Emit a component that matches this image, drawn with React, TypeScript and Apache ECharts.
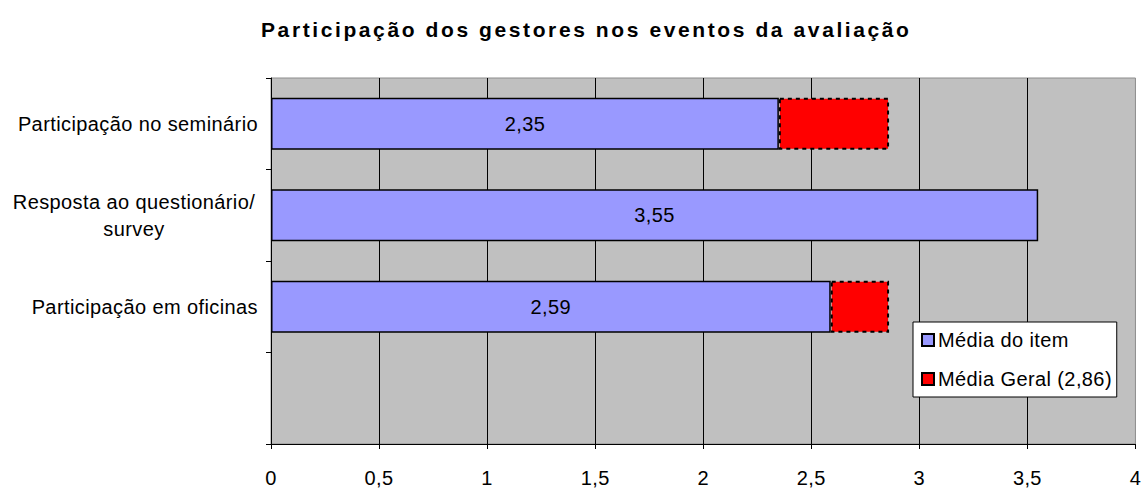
import React, { useEffect, useRef } from "react";
import * as echarts from "echarts";

const categories = [
  "Participação no seminário",
  "Resposta ao questionário/\nsurvey",
  "Participação em oficinas",
  "",
];
const itemMeans = [2.35, 3.55, 2.59, null];
const overallMean = 2.86;
const seriesNames = ["Média do item", "Média Geral (2,86)"];
const xTicks = [0, 0.5, 1, 1.5, 2, 2.5, 3, 3.5, 4];

const fmt = (v: number) => String(v).replace(".", ",");

export default function App() {
  const ref = useRef<HTMLDivElement>(null);
  useEffect(() => {
    if (!ref.current) return;
    const chart = echarts.init(ref.current, null, { renderer: "svg" });
    const gap = itemMeans.map((v) =>
      v == null || v >= overallMean ? null : +(overallMean - v).toFixed(2)
    );
    const font = "Liberation Sans, Arial, sans-serif";
    chart.setOption({
      animation: false,
      textStyle: { fontFamily: font },
      title: {
        text: "Participação dos gestores nos eventos da avaliação",
        left: 256,
        top: 14,
        textStyle: { fontSize: 21, fontWeight: "bold", color: "#000", fontFamily: font },
      },
      grid: {
        left: 271,
        top: 78,
        right: 4,
        bottom: 42,
        show: true,
        backgroundColor: "#C0C0C0",
        borderColor: "#8C8C8C",
        borderWidth: 1,
      },
      legend: {
        orient: "vertical",
        left: 913,
        top: 322,
        backgroundColor: "#fff",
        borderColor: "#000",
        borderWidth: 1,
        borderRadius: 0,
        padding: [8, 12, 8, 8],
        itemGap: 19,
        itemWidth: 12,
        itemHeight: 12,
        icon: "rect",
        textStyle: { fontSize: 20, color: "#000", fontFamily: font, padding: [0, 0, 0, -1] },
        data: seriesNames,
      },
      xAxis: {
        type: "value",
        min: xTicks[0],
        max: xTicks[xTicks.length - 1],
        interval: 0.5,
        axisLine: { show: true, lineStyle: { color: "#000", width: 1 } },
        axisTick: { show: true, length: 5, lineStyle: { color: "#000" } },
        axisLabel: {
          fontSize: 20,
          color: "#000",
          margin: 24,
          formatter: (v: number) => fmt(v),
        },
        splitLine: {
          show: true,
          showMinLine: false,
          showMaxLine: false,
          lineStyle: { color: "#000", width: 1 },
        },
      },
      yAxis: {
        type: "category",
        inverse: true,
        data: categories,
        axisLine: { show: true, lineStyle: { color: "#000", width: 1 } },
        axisTick: { show: true, length: 5, lineStyle: { color: "#000" } },
        axisLabel: {
          fontSize: 20,
          color: "#000",
          margin: 13,
          formatter: (v: string) => (v.includes("\n") ? "" : v),
        },
      },
      series: [
        {
          name: seriesNames[0],
          type: "bar",
          stack: "s",
          barWidth: 52,
          data: itemMeans,
          itemStyle: { color: "#9999FF", borderColor: "#000", borderWidth: 1.5 },
          label: {
            show: true,
            position: "inside",
            fontSize: 20,
            color: "#000",
            fontFamily: font,
            formatter: (p: any) => fmt(p.value),
          },
        },
        {
          name: seriesNames[1],
          type: "bar",
          stack: "s",
          data: gap,
          itemStyle: {
            color: "#FF0000",
            borderColor: "#000",
            borderWidth: 2,
            borderType: [4, 4],
          },
        },
      ],
    });
    // Multi-line category labels drawn centered (as in the original), positioned via the axis scale
    const multi = categories.filter((c) => c.includes("\n"));
    const graphics = multi.map((c) => {
      const yPix = chart.convertToPixel({ yAxisIndex: 0 }, c) as number;
      return {
        type: "text",
        x: 134,
        y: yPix,
        style: {
          text: c,
          font: `20px ${font}`,
          fill: "#000",
          textAlign: "center",
          textVerticalAlign: "middle",
          lineHeight: 27,
        },
      };
    });
    chart.setOption({ graphic: graphics });
    return () => chart.dispose();
  }, []);
  return (
    <>
      <style>{`
        .chart-root svg text { letter-spacing: 0.4px; }
        .chart-root svg text[style*="bold"] { letter-spacing: 2.6px; }
      `}</style>
      <div
        ref={ref}
        className="chart-root"
        style={{ position: "fixed", left: 0, top: 0, width: 1144, height: 488, background: "#fff" }}
      />
    </>
  );
}
